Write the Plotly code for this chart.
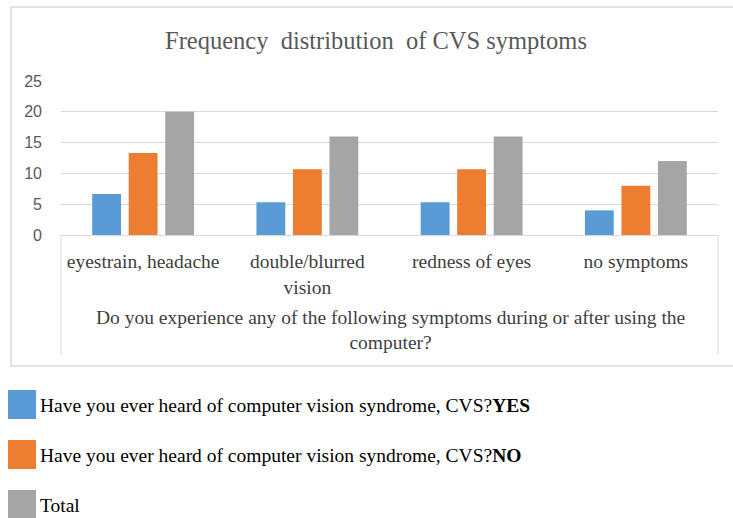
import plotly.graph_objects as go

categories = ["eyestrain, headache", "double/blurred<br>vision", "redness of eyes", "no symptoms"]
series_names = [
    "Have you ever heard of computer vision syndrome, CVS?<b>YES</b>",
    "Have you ever heard of computer vision syndrome, CVS?<b>NO</b>",
    "Total",
]
yes_values = [6.67, 5.33, 5.33, 4.0]
no_values = [13.33, 10.67, 10.67, 8.0]
total_values = [20, 16, 16, 12]
colors = ["#5B9BD5", "#ED7D31", "#A5A5A5"]
y_ticks = [0, 5, 10, 15, 20, 25]

W, H = 733, 518
L, R, T, B = 61, 15, 81, 283
PW, PH = W - L - R, H - T - B


def px_x(x):
    return (x - L) / PW


def px_y(y):
    return (H - B - y) / PH


fig = go.Figure()
for name, vals, col in zip(series_names, [yes_values, no_values, total_values], colors):
    fig.add_trace(go.Bar(x=categories, y=vals, name=name, marker_color=col,
                         marker_line_width=0, showlegend=False))

serif = "Liberation Serif"
fig.update_layout(
    width=W, height=H,
    margin=dict(l=L, r=R, t=T, b=B),
    paper_bgcolor="white", plot_bgcolor="white",
    barmode="group", bargap=0.333, bargroupgap=0.21,
    xaxis=dict(showline=True, linecolor="#D9D9D9", linewidth=1, showgrid=False,
               tickfont=dict(family=serif, size=19.5, color="#404040"),
               ticks="", ticklabelstandoff=9),
    yaxis=dict(range=[0, 25], tickvals=y_ticks, showgrid=True, gridcolor="#D9D9D9",
               zeroline=False, showline=False,
               tickfont=dict(family="Liberation Sans", size=16, color="#595959"),
               ticklabelstandoff=18),
)

shapes = []
# outer chart border
shapes.append(dict(type="rect", xref="paper", yref="paper",
                   x0=px_x(11), x1=px_x(745), y0=px_y(366), y1=px_y(7),
                   line=dict(color="#D9D9D9", width=1.5), fillcolor="rgba(0,0,0,0)", layer="below"))
# category box sides
for xv in [0, 1]:
    shapes.append(dict(type="line", xref="paper", yref="paper",
                       x0=xv, x1=xv, y0=0, y1=px_y(355),
                       line=dict(color="#D9D9D9", width=1)))

annotations = [
    dict(text="Frequency  distribution  of CVS symptoms", xref="paper", yref="paper",
         x=px_x(376), y=px_y(40), showarrow=False, xanchor="center", yanchor="middle",
         font=dict(family=serif, size=24.5, color="#595959")),
    dict(text="Do you experience any of the following symptoms during or after using the<br>computer?",
         xref="paper", yref="paper", x=px_x(390), y=px_y(330), showarrow=False,
         xanchor="center", yanchor="middle",
         font=dict(family=serif, size=19.5, color="#404040")),
]

legend_tops = [390, 440, 490]
for name, col, top in zip(series_names, colors, legend_tops):
    shapes.append(dict(type="rect", xref="paper", yref="paper",
                       x0=px_x(8), x1=px_x(36), y0=px_y(top + 29), y1=px_y(top),
                       line=dict(color=col, width=0), fillcolor=col))
    annotations.append(dict(text=name, xref="paper", yref="paper",
                            x=px_x(38), y=px_y(top + 15), showarrow=False,
                            xanchor="left", yanchor="middle",
                            font=dict(family=serif, size=19.5, color="#000000")))

fig.update_layout(shapes=shapes, annotations=annotations)
fig.write_html("out.html", config={"displayModeBar": False},
               post_script="document.body.style.margin='0';")
